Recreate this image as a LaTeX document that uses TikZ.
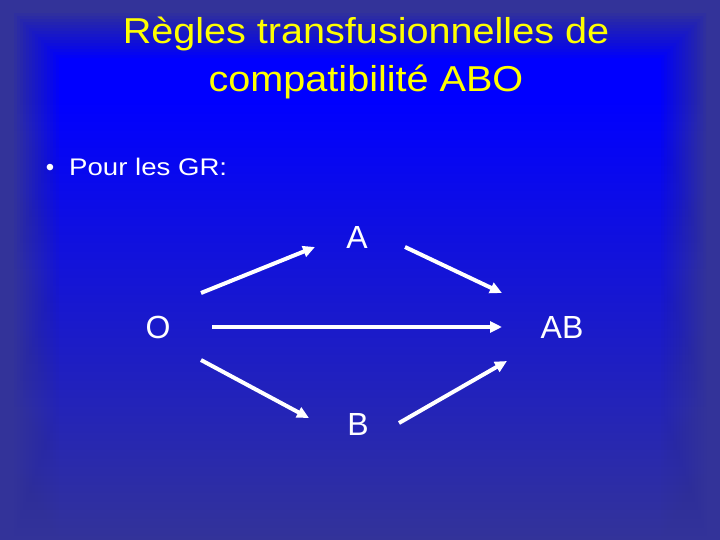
\documentclass[tikz,border=0pt]{standalone}
\usepackage{fontspec}
\usepackage{graphicx}
\setmainfont{Liberation Sans}
\usetikzlibrary{arrows.meta}
\definecolor{bgdark}{RGB}{51,51,153}
\definecolor{ttl}{RGB}{255,255,0}
\pgfdeclareverticalshading{bgshade}{100bp}{color(0bp)=(bgdark); color(25bp)=(bgdark); color(65.7bp)=(blue); color(100bp)=(blue)}
\begin{document}
\begin{tikzpicture}[x=1pt,y=-1pt,
  ttlstyle/.style={text=ttl,font=\fontsize{36}{44}\selectfont,inner sep=0pt,anchor=base},
  bodytext/.style={text=white,font=\fontsize{24}{29}\selectfont,inner sep=0pt,anchor=base},
  lbl/.style={text=white,font=\fontsize{32}{38}\selectfont,inner sep=0pt,anchor=base},
  flow/.style={draw=white,line width=4pt,-{Triangle[length=12pt,width=11pt]}}]
\useasboundingbox (0,0) rectangle (720,540);
% background
\fill[bgdark] (0,0) rectangle (720,540);
\foreach \k in {1,...,16}{
  \pgfmathsetmacro{\op}{1/(16-\k+1)}
  \begin{scope}
    \clip (11+3*\k,11+3*\k) rectangle (709-3*\k,545);
    \shade[shading=bgshade,fill opacity=\op] (0,0) rectangle (720,540);
  \end{scope}
}
% title
\node[ttlstyle] (t1) at (366,44) {\scalebox{1.1}[1]{Règles transfusionnelles de}};
\node[ttlstyle] (t2) at (366,92) {\scalebox{1.1}[1]{compatibilité ABO}};
% bullet
\node[bodytext] (bul) at (50,176) {•};
\node[bodytext,anchor=base west] (pour) at (69,176) {\scalebox{1.15}[1]{Pour les GR:}};
% labels
\node[lbl] (A) at (357,248) {A};
\node[lbl] (O) at (158,338) {O};
\node[lbl] (AB) at (562,338) {AB};
\node[lbl] (B) at (358,435) {B};
% arrow end points
\coordinate (oa1) at (201,293);
\coordinate (oa2) at (315,247);
\coordinate (aab1) at (405,247);
\coordinate (aab2) at (502,293);
\coordinate (oab1) at (212,327);
\coordinate (oab2) at (502,327);
\coordinate (ob1) at (201,360);
\coordinate (ob2) at (309,418);
\coordinate (bab1) at (399,423);
\coordinate (bab2) at (507,361);
\draw[flow] (oa1) -- (oa2);
\draw[flow] (aab1) -- (aab2);
\draw[flow] (oab1) -- (oab2);
\draw[flow] (ob1) -- (ob2);
\draw[flow] (bab1) -- (bab2);
\end{tikzpicture}
\end{document}
